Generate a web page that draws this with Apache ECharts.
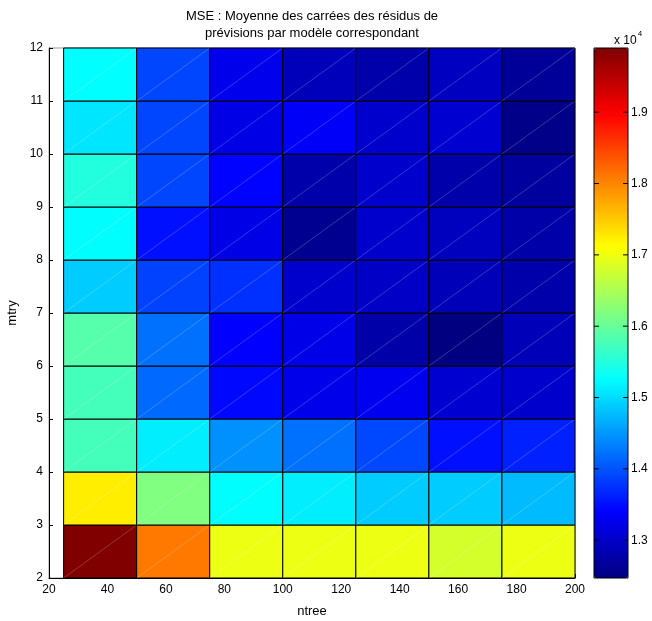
<!DOCTYPE html>
<html>
<head>
<meta charset="utf-8">
<script src="https://cdn.jsdelivr.net/npm/echarts@6/dist/echarts.min.js"></script>
<style>
  html, body { margin: 0; padding: 0; background: #fff; }
  #chart { width: 652px; height: 621px; }
</style>
</head>
<body>
<div id="chart"></div>
<script>
    // cell edges (ntree columns, mtry rows)
    var ntreeEdges = [25, 50, 75, 100, 125, 150, 175, 200];
    var mtryEdges = [2, 3, 4, 5, 6, 7, 8, 9, 10, 11, 12];

    // MSE per mtry row (lower edge), one value per ntree column
    var mse_m2  = [19900, 18100, 16985, 16985, 16985, 16800, 16985];
    var mse_m3  = [17240, 16185, 15250, 15130, 14885, 14885, 14760];
    var mse_m4  = [15750, 15130, 14450, 14220, 13920, 13510, 13630];
    var mse_m5  = [15750, 14160, 13450, 13250, 13290, 13060, 13030];
    var mse_m6  = [15870, 14220, 13400, 13230, 12760, 12470, 12880];
    var mse_m7  = [14885, 13880, 13750, 13030, 12980, 12880, 12780];
    var mse_m8  = [15250, 13510, 13220, 12590, 13030, 12930, 12760];
    var mse_m9  = [15500, 13900, 13410, 12780, 13030, 12780, 12700];
    var mse_m10 = [15070, 13900, 13220, 13350, 13030, 13060, 12530];
    var mse_m11 = [15256, 13900, 13270, 12900, 12780, 12935, 12655];
    var mseRows = [mse_m2, mse_m3, mse_m4, mse_m5, mse_m6, mse_m7, mse_m8, mse_m9, mse_m10, mse_m11];

    var cbarMin = 12470, cbarMax = 19900;
    var cbarTicks = [13000, 14000, 15000, 16000, 17000, 18000, 19000];

    var cells = [];
    for (var r = 0; r < mseRows.length; r++) {
        for (var c = 0; c < mseRows[r].length; c++) {
            cells.push([ntreeEdges[c], mtryEdges[r], mseRows[r][c], ntreeEdges[c + 1], mtryEdges[r + 1]]);
        }
    }

    var txt = { color: '#000', fontFamily: 'Liberation Sans, Arial, sans-serif', fontSize: 12 };

    var myChart = echarts.init(document.getElementById('chart'));
    var option = {
        animation: false,
        backgroundColor: '#fff',
        grid: [
            { left: 49, top: 48, width: 526, height: 530, outerBoundsMode: 'none', containLabel: false,
              show: true, borderColor: '#999', borderWidth: 1, backgroundColor: 'transparent' },
            { left: 594, top: 48, width: 34, height: 530, outerBoundsMode: 'none', containLabel: false,
              show: true, borderColor: '#000', borderWidth: 1, backgroundColor: 'transparent', z: 10 }
        ],
        xAxis: [
            {
                gridIndex: 0, type: 'value', min: 20, max: 200, interval: 20,
                name: 'ntree', nameLocation: 'middle', nameGap: 27,
                nameTextStyle: { color: '#000', fontFamily: txt.fontFamily, fontSize: 13 },
                axisLine: { show: true, lineStyle: { color: '#000' } },
                axisTick: { inside: true, length: 4, lineStyle: { color: '#000' } },
                axisLabel: Object.assign({ margin: 6 }, txt),
                splitLine: { show: false }
            },
            {
                gridIndex: 1, type: 'value', min: 0, max: 1, show: false
            }
        ],
        yAxis: [
            {
                gridIndex: 0, type: 'value', min: 2, max: 12, interval: 1,
                name: 'mtry', nameLocation: 'middle', nameGap: 24,
                nameTextStyle: { color: '#000', fontFamily: txt.fontFamily, fontSize: 13 },
                axisLine: { show: true, lineStyle: { color: '#000' } },
                axisTick: { inside: true, length: 4, lineStyle: { color: '#000' } },
                axisLabel: Object.assign({ margin: 6 }, txt),
                splitLine: { show: false }
            },
            {
                gridIndex: 1, type: 'value', min: cbarMin, max: cbarMax, position: 'right',
                axisLine: { show: false },
                axisTick: { show: false },
                axisLabel: Object.assign({
                    margin: 3, customValues: cbarTicks,
                    formatter: function (v) { return (v / 10000).toFixed(1); }
                }, txt),
                splitLine: { show: false }
            }
        ],
        visualMap: {
            type: 'continuous',
            min: cbarMin, max: cbarMax,
            dimension: 2, seriesIndex: 0,
            calculable: false, hoverLink: false,
            left: 594, top: 48, itemWidth: 34, itemHeight: 530,
            padding: 0, z: 1,
            inRange: {
                color: ['#000080', '#0000ff', '#0080ff', '#00ffff', '#80ff80', '#ffff00', '#ff8000', '#ff0000', '#800000']
            }
        },
        graphic: [
            {
                type: 'text', x: 312, y: 8,
                style: {
                    text: 'MSE : Moyenne des carrées des résidus de\nprévisions par modèle correspondant',
                    align: 'center', lineHeight: 17,
                    fill: '#000', font: '13px "Liberation Sans", Arial, sans-serif'
                }
            },
            {
                type: 'text', x: 614, y: 30,
                style: {
                    text: '{a|x 10}{b|4}',
                    rich: {
                        a: { fontSize: 12, fontFamily: 'Liberation Sans', fill: '#000', verticalAlign: 'bottom' },
                        b: { fontSize: 8, fontFamily: 'Liberation Sans', fill: '#000', verticalAlign: 'top', padding: [0, 0, 9, 1] }
                    }
                }
            }
        ],
        series: [
            {
                type: 'custom',
                xAxisIndex: 0, yAxisIndex: 0,
                encode: { x: [0, 3], y: [1, 4] },
                data: cells,
                renderItem: function (params, api) {
                    var p0 = api.coord([api.value(0), api.value(1)]);
                    var p1 = api.coord([api.value(3), api.value(4)]);
                    return {
                        type: 'group',
                        children: [
                            {
                                type: 'rect',
                                shape: { x: p0[0], y: p1[1], width: p1[0] - p0[0], height: p0[1] - p1[1] },
                                style: { fill: api.visual('color'), stroke: '#000', lineWidth: 1 }
                            },
                            {
                                type: 'line',
                                shape: { x1: p0[0], y1: p0[1], x2: p1[0], y2: p1[1] },
                                style: { stroke: 'rgba(255,255,255,0.35)', lineWidth: 0.6 }
                            }
                        ]
                    };
                }
            },
            {
                // colorbar tick marks, inside on both edges
                type: 'custom',
                xAxisIndex: 1, yAxisIndex: 1,
                z: 20, silent: true,
                data: cbarTicks,
                renderItem: function (params, api) {
                    var pl = api.coord([0, api.value(0)]);
                    var pr = api.coord([1, api.value(0)]);
                    return {
                        type: 'group',
                        children: [
                            { type: 'line', shape: { x1: pl[0], y1: pl[1], x2: pl[0] + 5, y2: pl[1] }, style: { stroke: '#000', lineWidth: 1 } },
                            { type: 'line', shape: { x1: pr[0] - 5, y1: pr[1], x2: pr[0], y2: pr[1] }, style: { stroke: '#000', lineWidth: 1 } }
                        ]
                    };
                }
            }
        ]
    };
    myChart.setOption(option);
</script>
</body>
</html>
